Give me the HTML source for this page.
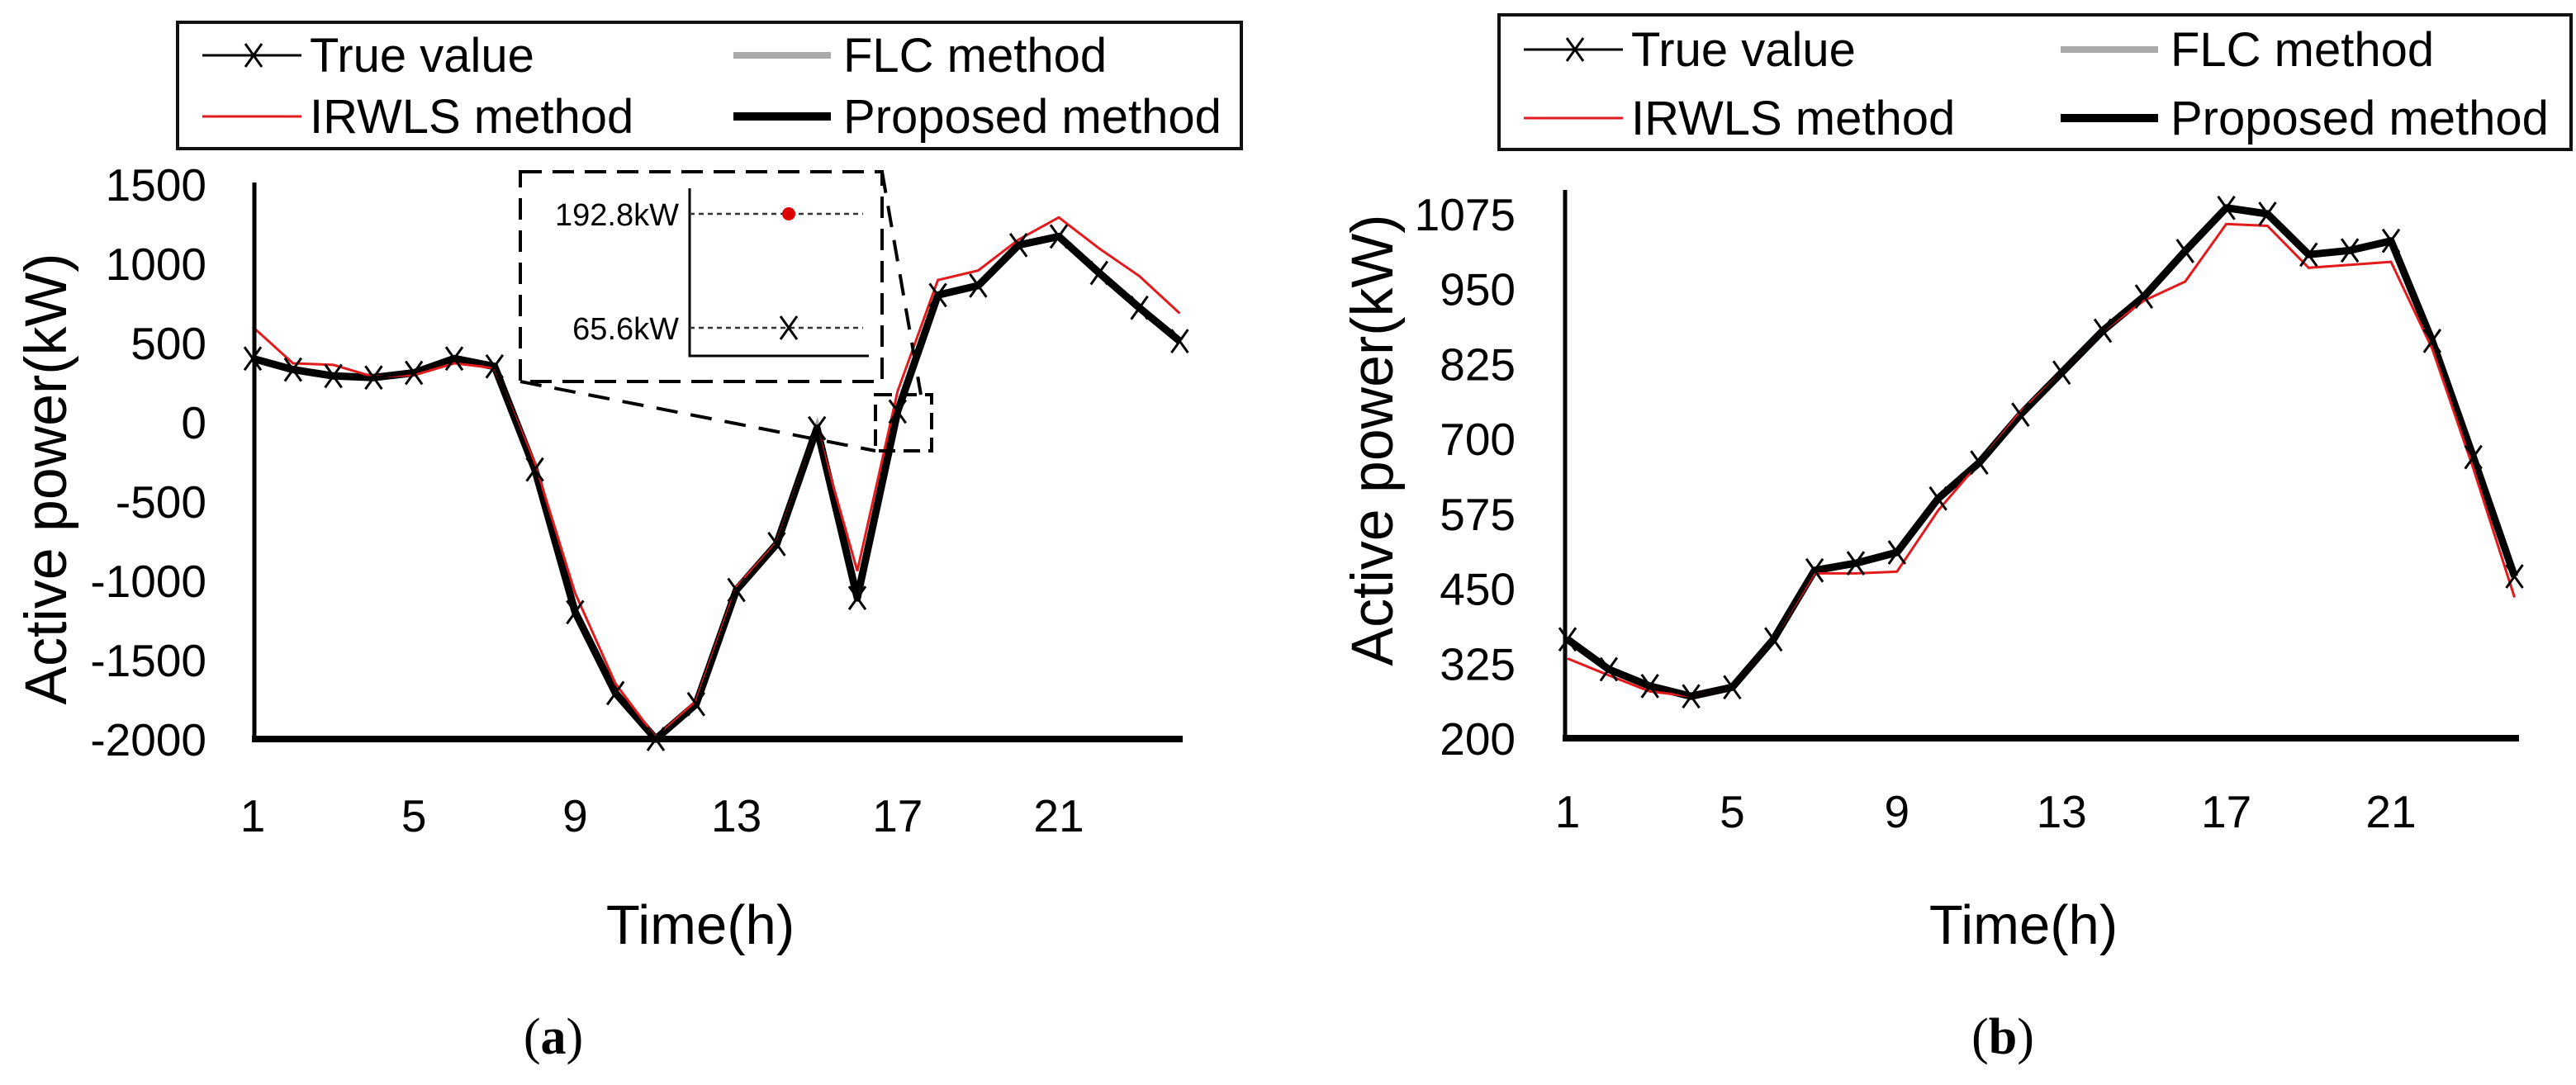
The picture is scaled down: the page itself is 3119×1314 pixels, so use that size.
<!DOCTYPE html>
<html><head><meta charset="utf-8"><style>
html,body{margin:0;padding:0;background:#fff;}
svg{display:block;font-family:"Liberation Sans",sans-serif;}
</style></head><body>
<svg id="fig" width="3119" height="1314" viewBox="0 0 3119 1314" xmlns="http://www.w3.org/2000/svg"></svg>
<script>
const hours = [1,2,3,4,5,6,7,8,9,10,11,12,13,14,15,16,17,18,19,20,21,22,23,24];
const xTicks = [1,5,9,13,17,21];
const aTrue = [400,330,290,280,310,400,350,-300,-1200,-1710,-2000,-1780,-1060,-770,-40,-1110,66,800,860,1115,1170,940,720,510];
const aIRWLS = [600,370,360,285,295,370,340,-260,-1080,-1650,-1990,-1760,-1040,-760,-40,-940,193,895,955,1150,1290,1095,920,685];
const aProposed = [400,330,290,280,310,400,350,-300,-1200,-1710,-2000,-1780,-1060,-770,-40,-1110,66,800,860,1115,1170,940,720,510];
const aFLC = [400,330,290,280,310,400,350,-300,-1200,-1710,-2000,-1780,-1060,-770,-40,-1110,66,800,860,1115,1170,940,720,510];
const aYTicks = [-2000,-1500,-1000,-500,0,500,1000,1500];
const bTrue = [365,315,287,270,285,365,480,492,510,600,660,740,810,880,937,1013,1085,1075,1007,1014,1030,863,669,470];
const bIRWLS = [333,305,278,270,285,365,475,475,478,580,660,745,810,880,930,962,1058,1055,985,990,995,850,650,435];
const bProposed = [365,315,287,270,285,365,480,492,510,600,660,740,810,880,937,1013,1085,1075,1007,1014,1030,863,669,470];
const bFLC = [365,315,287,270,285,365,480,492,510,600,660,740,810,880,937,1013,1085,1075,1007,1014,1030,863,669,470];
const bYTicks = [200,325,450,575,700,825,950,1075];

const NS = "http://www.w3.org/2000/svg";
const svg = document.getElementById('fig');
function mk(tag, attrs, parent, text){
  const e = document.createElementNS(NS, tag);
  for (const k in attrs) e.setAttribute(k, attrs[k]);
  if (text !== undefined) e.textContent = text;
  (parent||svg).appendChild(e);
  return e;
}
function poly(xs, ys, vals, xf, yf){
  return vals.map((v,i)=>xf(xs[i]).toFixed(1)+','+yf(v).toFixed(1)).join(' ');
}
function drawX(g, cx, cy){
  mk('path',{d:`M${cx-10},${cy-14}L${cx+10},${cy+14}M${cx+10},${cy-14}L${cx-10},${cy+14}`,stroke:'#000','stroke-width':3,fill:'none'},g);
}
function chart(o){
  const g = mk('g',{});
  
  
  const xf = h => o.x0 + (h-1)*o.dx;
  const yf = v => o.yBot - (v - o.vMin)*(o.yBot - o.yTop)/(o.vMax - o.vMin);
  const lg = mk('g',{},g);
  
  
  mk('rect',{x:o.lx,y:o.ly,width:o.lw,height:o.lh,fill:'#fff',stroke:'#111','stroke-width':4},lg);
  const c1 = o.lx+30, c2 = o.lx+o.col2;
  const r1 = o.ly+o.r1, r2 = o.ly+o.r2;
  const e1 = mk('g',{},lg);  
  mk('line',{x1:c1,y1:r1,x2:c1+120,y2:r1,stroke:'#000','stroke-width':3},e1); drawX(e1,c1+62,r1);
  mk('text',{x:c1+130,y:r1+20,'font-size':58},e1,'True value');
  const e2 = mk('g',{},lg);  
  mk('line',{x1:c1,y1:r2,x2:c1+120,y2:r2,stroke:'#e31a1c','stroke-width':3},e2);
  mk('text',{x:c1+130,y:r2+20,'font-size':58},e2,'IRWLS method');
  const e3 = mk('g',{},lg);  
  mk('line',{x1:c2,y1:r1,x2:c2+118,y2:r1,stroke:'#aaa','stroke-width':8},e3);
  mk('text',{x:c2+133,y:r1+20,'font-size':58},e3,'FLC method');
  const e4 = mk('g',{},lg);  
  mk('line',{x1:c2,y1:r2,x2:c2+118,y2:r2,stroke:'#000','stroke-width':10},e4);
  mk('text',{x:c2+133,y:r2+20,'font-size':58},e4,'Proposed method');
  o.yTicks.forEach(v=>{
    const t = mk('text',{x:o.tickRight,y:yf(v)+20,'font-size':55,'text-anchor':'end'},g,String(v));
    
    
  });
  xTicks.forEach(h=>{
    const t = mk('text',{x:xf(h),y:o.xLabY,'font-size':55,'text-anchor':'middle'},g,String(h));
    
    
  });
  const fl = mk('polyline',{points:poly(hours,hours,o.flc,xf,yf),fill:'none',stroke:'#aaa','stroke-width':8},g);
   
  const pr = mk('polyline',{points:poly(hours,hours,o.prop,xf,yf),fill:'none',stroke:'#000','stroke-width':9,'stroke-linejoin':'round'},g);
   
  const ir = mk('polyline',{points:poly(hours,hours,o.irwls,xf,yf),fill:'none',stroke:'#e31a1c','stroke-width':3},g);
   
  const tr = mk('polyline',{points:poly(hours,hours,o.tru,xf,yf),fill:'none',stroke:'#000','stroke-width':3},g);
   
  const mg = mk('g',{},g);
   
  o.tru.forEach((v,i)=>drawX(mg, xf(hours[i]), yf(v)));
  const ya = mk('line',{x1:o.axX,y1:o.axTop,x2:o.axX,y2:o.yBot,stroke:'#000','stroke-width':5},g);
   
  const xa = mk('line',{x1:o.axX-3,y1:o.yBot,x2:o.axEnd,y2:o.yBot,stroke:'#000','stroke-width':8},g);
   
  const yt = mk('text',{x:0,y:0,'font-size':71,'text-anchor':'middle',textLength:547,lengthAdjust:'spacingAndGlyphs',transform:`translate(${o.ylX},${o.ylY}) rotate(-90)`},g,'Active power(kW)');
   
  const xt = mk('text',{x:o.xtX,y:1143,'font-size':67,'text-anchor':'middle'},g,'Time(h)');
   
  const cap = mk('text',{x:o.capX,y:1276,'font-size':62,'text-anchor':'middle','font-family':'"Liberation Serif",serif'},g);
   
  mk('tspan',{},cap,'(');
  mk('tspan',{'font-weight':'bold'},cap,o.cap);
  mk('tspan',{},cap,')');
  return {xf,yf,g};
}
const A = chart({name:'chart-a',x0:306,dx:48.8,yTop:223,yBot:895,vMin:-2000,vMax:1500,
  yTicks:aYTicks,tru:aTrue,irwls:aIRWLS,prop:aProposed,flc:aFLC,
  lx:215,ly:27,lw:1288,lh:153,col2:673,r1:40,r2:114,axTop:221,
  tickRight:250,xLabY:1007,axX:308,axEnd:1432,ylX:80,ylY:580,xtX:848,capX:670,cap:'a'});
const B = chart({name:'chart-b',x0:1898,dx:49.85,yTop:259,yBot:894,vMin:200,vMax:1075,
  yTicks:bYTicks,tru:bTrue,irwls:bIRWLS,prop:bProposed,flc:bFLC,
  lx:1815,ly:18,lw:1298,lh:163,col2:680,r1:42,r2:125,axTop:230,
  tickRight:1835,xLabY:1002,axX:1895,axEnd:3050,ylX:1686,ylY:533,xtX:2450,capX:2425,cap:'b'});

const ins = mk('g',{});


mk('rect',{x:630,y:208,width:438,height:254,fill:'#fff',stroke:'#000','stroke-width':4,'stroke-dasharray':'26,13'},ins);
mk('rect',{x:1060,y:478,width:68,height:68,fill:'none',stroke:'#000','stroke-width':4,'stroke-dasharray':'20,10'},ins);
mk('line',{x1:630,y1:462,x2:1060,y2:546,stroke:'#000','stroke-width':4,'stroke-dasharray':'26,16'},ins);
mk('line',{x1:1068,y1:208,x2:1115,y2:478,stroke:'#000','stroke-width':4,'stroke-dasharray':'26,16'},ins);
mk('path',{d:'M835,228L835,431L1052,431',fill:'none',stroke:'#000','stroke-width':3},ins);
mk('line',{x1:835,y1:259,x2:1045,y2:259,stroke:'#333','stroke-width':2.5,'stroke-dasharray':'6,5'},ins);
mk('line',{x1:835,y1:397,x2:1045,y2:397,stroke:'#333','stroke-width':2.5,'stroke-dasharray':'6,5'},ins);
const dot = mk('circle',{cx:955,cy:259,r:8,fill:'#d00'},ins);
 
drawX(ins,955,397);
mk('text',{x:822,y:273,'font-size':38,'text-anchor':'end'},ins,'192.8kW');
mk('text',{x:822,y:411,'font-size':38,'text-anchor':'end'},ins,'65.6kW');
</script>
</body></html>
